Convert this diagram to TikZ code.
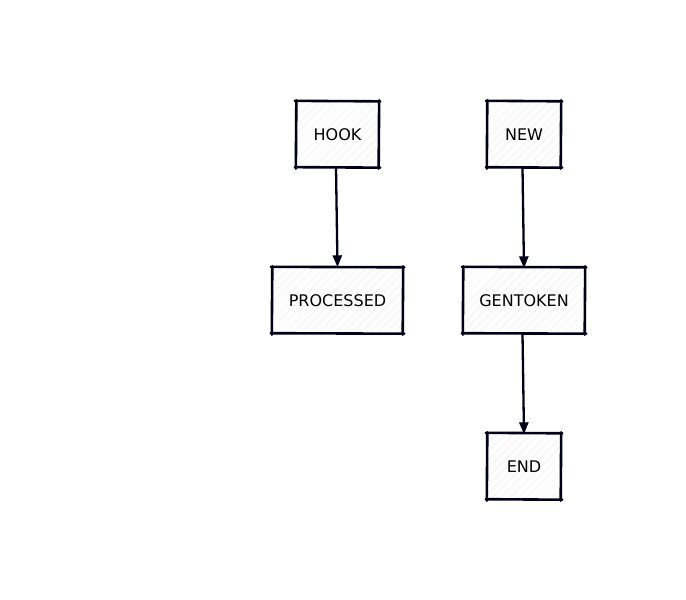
\documentclass[tikz,border=0pt]{standalone}
\usepackage{fontspec}
\setmainfont{DejaVu Sans}
\usetikzlibrary{arrows.meta,patterns.meta}
\tikzset{
  sk/.style={draw=none, minimum height=66pt, inner sep=0pt, font=\fontsize{16}{19}\selectfont,
    pattern={Lines[angle=45,distance=6pt,line width=0.3pt]}, pattern color=black!10},
  edge/.style={draw=black!90!blue, line width=2.6pt, line cap=round},
  conn/.style={draw=black!90!blue, line width=2.3pt, -{Triangle[length=12pt,width=9pt]}}
}
\newcommand{\sketchbox}[1]{%
  \draw[edge] ([xshift=-1pt,yshift=0.5pt]#1.north west) -- ([xshift=1pt]#1.north east);
  \draw[edge] ([yshift=1pt]#1.north east) -- ([yshift=-1pt,xshift=-0.5pt]#1.south east);
  \draw[edge] ([xshift=1pt]#1.south east) -- ([xshift=-1pt,yshift=0.5pt]#1.south west);
  \draw[edge] ([yshift=-1pt]#1.south west) -- ([yshift=1pt,xshift=0.5pt]#1.north west);
}
\begin{document}
\begin{tikzpicture}[x=1pt,y=-1pt]
\useasboundingbox (0,0) rectangle (686,600);
\node[sk, minimum width=83pt] (hook) at (337.5,134.5) {HOOK};
\node[sk, minimum width=74pt] (new) at (524,134.5) {NEW};
\node[sk, minimum width=131pt] (proc) at (337.5,300.5) {PROCESSED};
\node[sk, minimum width=122pt] (gen) at (524,300.5) {GENTOKEN};
\node[sk, minimum width=74pt] (end) at (524,466.5) {END};
\sketchbox{hook}
\sketchbox{new}
\sketchbox{proc}
\sketchbox{gen}
\sketchbox{end}
\draw[conn] ([xshift=-1.5pt]hook.south) -- (proc.north);
\draw[conn] ([xshift=-1.5pt]new.south) -- ([yshift=-1pt]gen.north);
\draw[conn] ([xshift=-1.5pt]gen.south) -- ([yshift=-1pt]end.north);
\end{tikzpicture}
\end{document}
